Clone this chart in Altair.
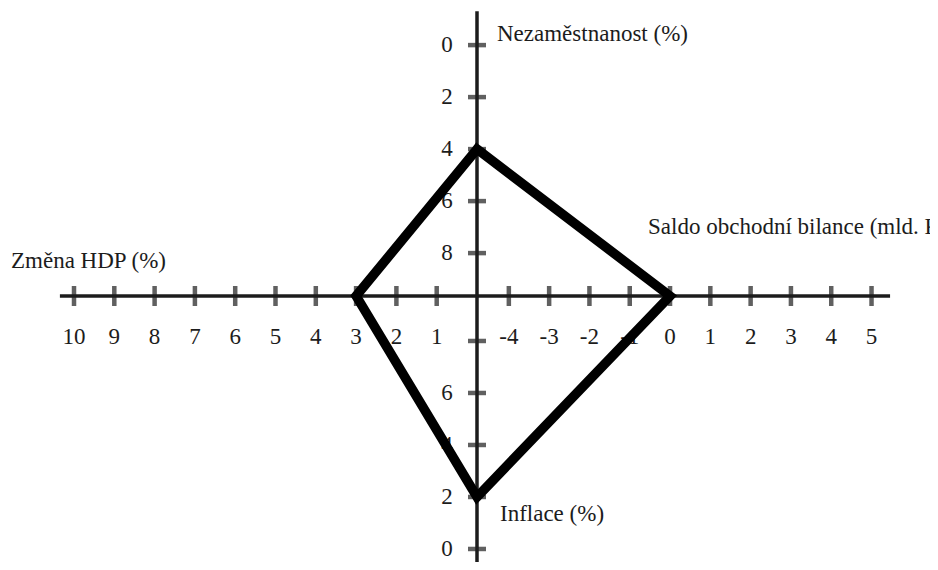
import altair as alt
import pandas as pd

# ---- data ----
axes_names = ["Nezaměstnanost (%)", "Saldo obchodní bilance (mld. Kč)", "Inflace (%)", "Změna HDP (%)"]
hdp_ticks = [1, 2, 3, 4, 5, 6, 7, 8, 9, 10]
saldo_ticks = [-4, -3, -2, -1, 0, 1, 2, 3, 4, 5]
unemp_ticks = [0, 2, 4, 6, 8]
infl_ticks = [0, 2, 4, 6, 8]
infl_labelled = [0, 2, 4, 6]
values = {"Nezaměstnanost (%)": 4, "Saldo obchodní bilance (mld. Kč)": 0, "Inflace (%)": 2, "Změna HDP (%)": 3}

# ---- axis geometry (in common chart units) ----
SALDO_ZERO = 4.79    # where saldo 0 sits on the right half-axis
UNEMP_ZERO = 9.65    # where unemployment 0 sits on the upper half-axis
INFL_ZERO = 9.73     # where inflation 0 sits on the lower half-axis


def pos(axis, v):
    if axis == "Změna HDP (%)":
        return (-v, 0.0)
    if axis == "Saldo obchodní bilance (mld. Kč)":
        return (SALDO_ZERO + v, 0.0)
    if axis == "Nezaměstnanost (%)":
        return (0.0, UNEMP_ZERO - v)
    return (0.0, v - INFL_ZERO)


FONT = "Liberation Serif"
INK = "#1c1c1c"
xs = alt.Scale(domain=[-11.638, 11.241], nice=False, zero=False)
ys = alt.Scale(domain=[-10.231, 11.077], nice=False, zero=False)

# axis lines
hline = pd.DataFrame({"x": [-10.35], "x2": [10.25], "y": [0.0]})
vline = pd.DataFrame({"x": [0.0], "y": [10.95], "y2": [-10.3]})

# ticks
htick_rows = []
for v in hdp_ticks:
    x, y = pos("Změna HDP (%)", v)
    htick_rows.append({"x": x, "y": y, "label": str(v)})
for v in saldo_ticks:
    x, y = pos("Saldo obchodní bilance (mld. Kč)", v)
    htick_rows.append({"x": x, "y": y, "label": str(v)})
htick = pd.DataFrame(htick_rows)

vtick_rows = []
for v in unemp_ticks:
    x, y = pos("Nezaměstnanost (%)", v)
    vtick_rows.append({"x": x, "y": y, "label": str(v)})
for v in infl_ticks:
    x, y = pos("Inflace (%)", v)
    vtick_rows.append({"x": x, "y": y, "label": str(v) if v in infl_labelled else ""})
vtick = pd.DataFrame(vtick_rows)

# polygon
order = ["Nezaměstnanost (%)", "Saldo obchodní bilance (mld. Kč)", "Inflace (%)", "Změna HDP (%)", "Nezaměstnanost (%)"]
poly = pd.DataFrame(
    [{"x": pos(a, values[a])[0], "y": pos(a, values[a])[1], "o": i} for i, a in enumerate(order)]
)

# axis titles (anchored to an axis value, then offset)
titles = pd.DataFrame([
    {"t": axes_names[0], "x": pos(axes_names[0], 0)[0], "y": pos(axes_names[0], 0)[1], "dx": 20, "dy": -11},
    {"t": axes_names[1], "x": pos(axes_names[1], 0)[0], "y": pos(axes_names[1], 0)[1], "dx": -22, "dy": -69},
    {"t": axes_names[2], "x": pos(axes_names[2], 0)[0], "y": pos(axes_names[2], 0)[1], "dx": 23, "dy": -35},
    {"t": axes_names[3], "x": pos(axes_names[3], 10)[0], "y": pos(axes_names[3], 10)[1], "dx": -63, "dy": -35},
])

X = lambda f="x": alt.X(f, type="quantitative", scale=xs, axis=None)
Y = lambda f="y": alt.Y(f, type="quantitative", scale=ys, axis=None)

h_axis = alt.Chart(hline).mark_rule(color=INK, strokeWidth=3.5).encode(x=X(), x2="x2:Q", y=Y())
v_axis = alt.Chart(vline).mark_rule(color=INK, strokeWidth=3.5).encode(x=X(), y=Y(), y2="y2:Q")

h_ticks = alt.Chart(htick).mark_tick(color=INK, orient="vertical", size=20, thickness=4.5).encode(x=X(), y=Y())
v_ticks = alt.Chart(vtick).mark_tick(color=INK, orient="horizontal", size=18, thickness=4.5).encode(x=X(), y=Y())

h_labels = alt.Chart(htick).mark_text(
    font=FONT, fontSize=23, color=INK, dy=41, align="center", baseline="middle"
).encode(x=X(), y=Y(), text="label:N")
v_labels = alt.Chart(vtick).mark_text(
    font=FONT, fontSize=23, color=INK, dx=-30, align="center", baseline="middle"
).encode(x=X(), y=Y(), text="label:N")

title_layers = []
for _, r in titles.iterrows():
    title_layers.append(
        alt.Chart(titles[titles["t"] == r["t"]]).mark_text(
            font=FONT, fontSize=23, color=INK, align="left", baseline="middle",
            dx=float(r["dx"]), dy=float(r["dy"])
        ).encode(x=X(), y=Y(), text="t:N")
    )

polygon = alt.Chart(poly).mark_line(
    color="#000000", strokeWidth=9.5, strokeJoin="miter", strokeCap="square"
).encode(x=X(), y=Y(), order="o:Q")

chart = alt.layer(
    h_axis, v_axis, h_ticks, v_ticks, h_labels, v_labels, *title_layers, polygon
).properties(
    width=922, height=554, padding=0,
    autosize=alt.AutoSizeParams(type="none"),
    background="white",
).configure_view(stroke=None)

chart.save("out.html", embed_options={"renderer": "svg", "actions": False})
